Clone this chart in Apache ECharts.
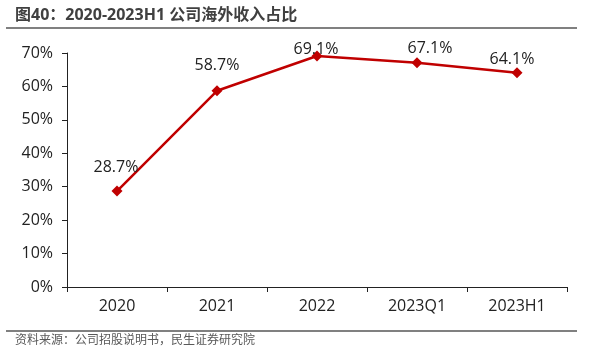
<!DOCTYPE html>
<html><head><meta charset="utf-8">
<script src="https://cdn.jsdelivr.net/npm/echarts@6/dist/echarts.min.js"></script>
<style>html,body{margin:0;padding:0;background:#fff}#c{width:591px;height:355px}</style>
</head><body><div id="c"></div>
<script>
const titleText = '图40：2020-2023H1 公司海外收入占比';
const sourceText = '资料来源：公司招股说明书，民生证券研究院';
const categories = ['2020', '2021', '2022', '2023Q1', '2023H1'];
const overseasShare = [28.7, 58.7, 69.1, 67.1, 64.1];
const yTicks = [0, 10, 20, 30, 40, 50, 60, 70];

// label placement (pixel offsets from each point), kept apart from the data
const labelOffsets = [[-1, -24], [0, -25], [-1, -7], [13, -14], [-5, -13]];

const font = '"Open Sans","Noto Sans CJK SC",sans-serif';
const chart = echarts.init(document.getElementById('c'), null, {renderer: 'canvas'});
chart.setOption({
  animation: false,
  backgroundColor: '#fff',
  graphic: [
    {type: 'text', left: 15, top: 7, style: {text: titleText, font: 'bold 16px ' + font, fill: '#404040'}},
    {type: 'line', shape: {x1: 6, y1: 28, x2: 577, y2: 28}, style: {stroke: '#808080', lineWidth: 2}},
    {type: 'line', shape: {x1: 6, y1: 331, x2: 577, y2: 331}, style: {stroke: '#808080', lineWidth: 2}},
    {type: 'text', left: 15, top: 335, style: {text: sourceText, font: '12px ' + font, fill: '#595959'}}
  ],
  grid: {left: 67, right: 24, top: 53, bottom: 68, containLabel: false},
  xAxis: {
    type: 'category', data: categories, boundaryGap: true,
    axisLine: {lineStyle: {color: '#222', width: 1}},
    axisTick: {show: true, length: 5, lineStyle: {color: '#222'}},
    axisLabel: {color: '#222', fontSize: 16, fontFamily: font, margin: 11}
  },
  yAxis: {
    type: 'value', min: yTicks[0], max: yTicks[yTicks.length - 1], interval: 10,
    axisLine: {show: true, lineStyle: {color: '#222', width: 1}},
    axisTick: {show: true, length: 5, lineStyle: {color: '#222'}},
    splitLine: {show: false},
    axisLabel: {color: '#222', fontSize: 16, fontFamily: font, margin: 14, formatter: v => v + '%'}
  },
  series: [{
    type: 'line',
    data: overseasShare.map((v, i) => ({value: v, label: {offset: labelOffsets[i]}})),
    symbol: 'diamond', symbolSize: 11,
    lineStyle: {color: '#C00000', width: 2.5},
    itemStyle: {color: '#C00000'},
    label: {show: true, position: 'inside', color: '#222', fontSize: 16, fontFamily: font,
            formatter: p => p.value.toFixed(1) + '%'}
  }]
});
</script></body></html>
